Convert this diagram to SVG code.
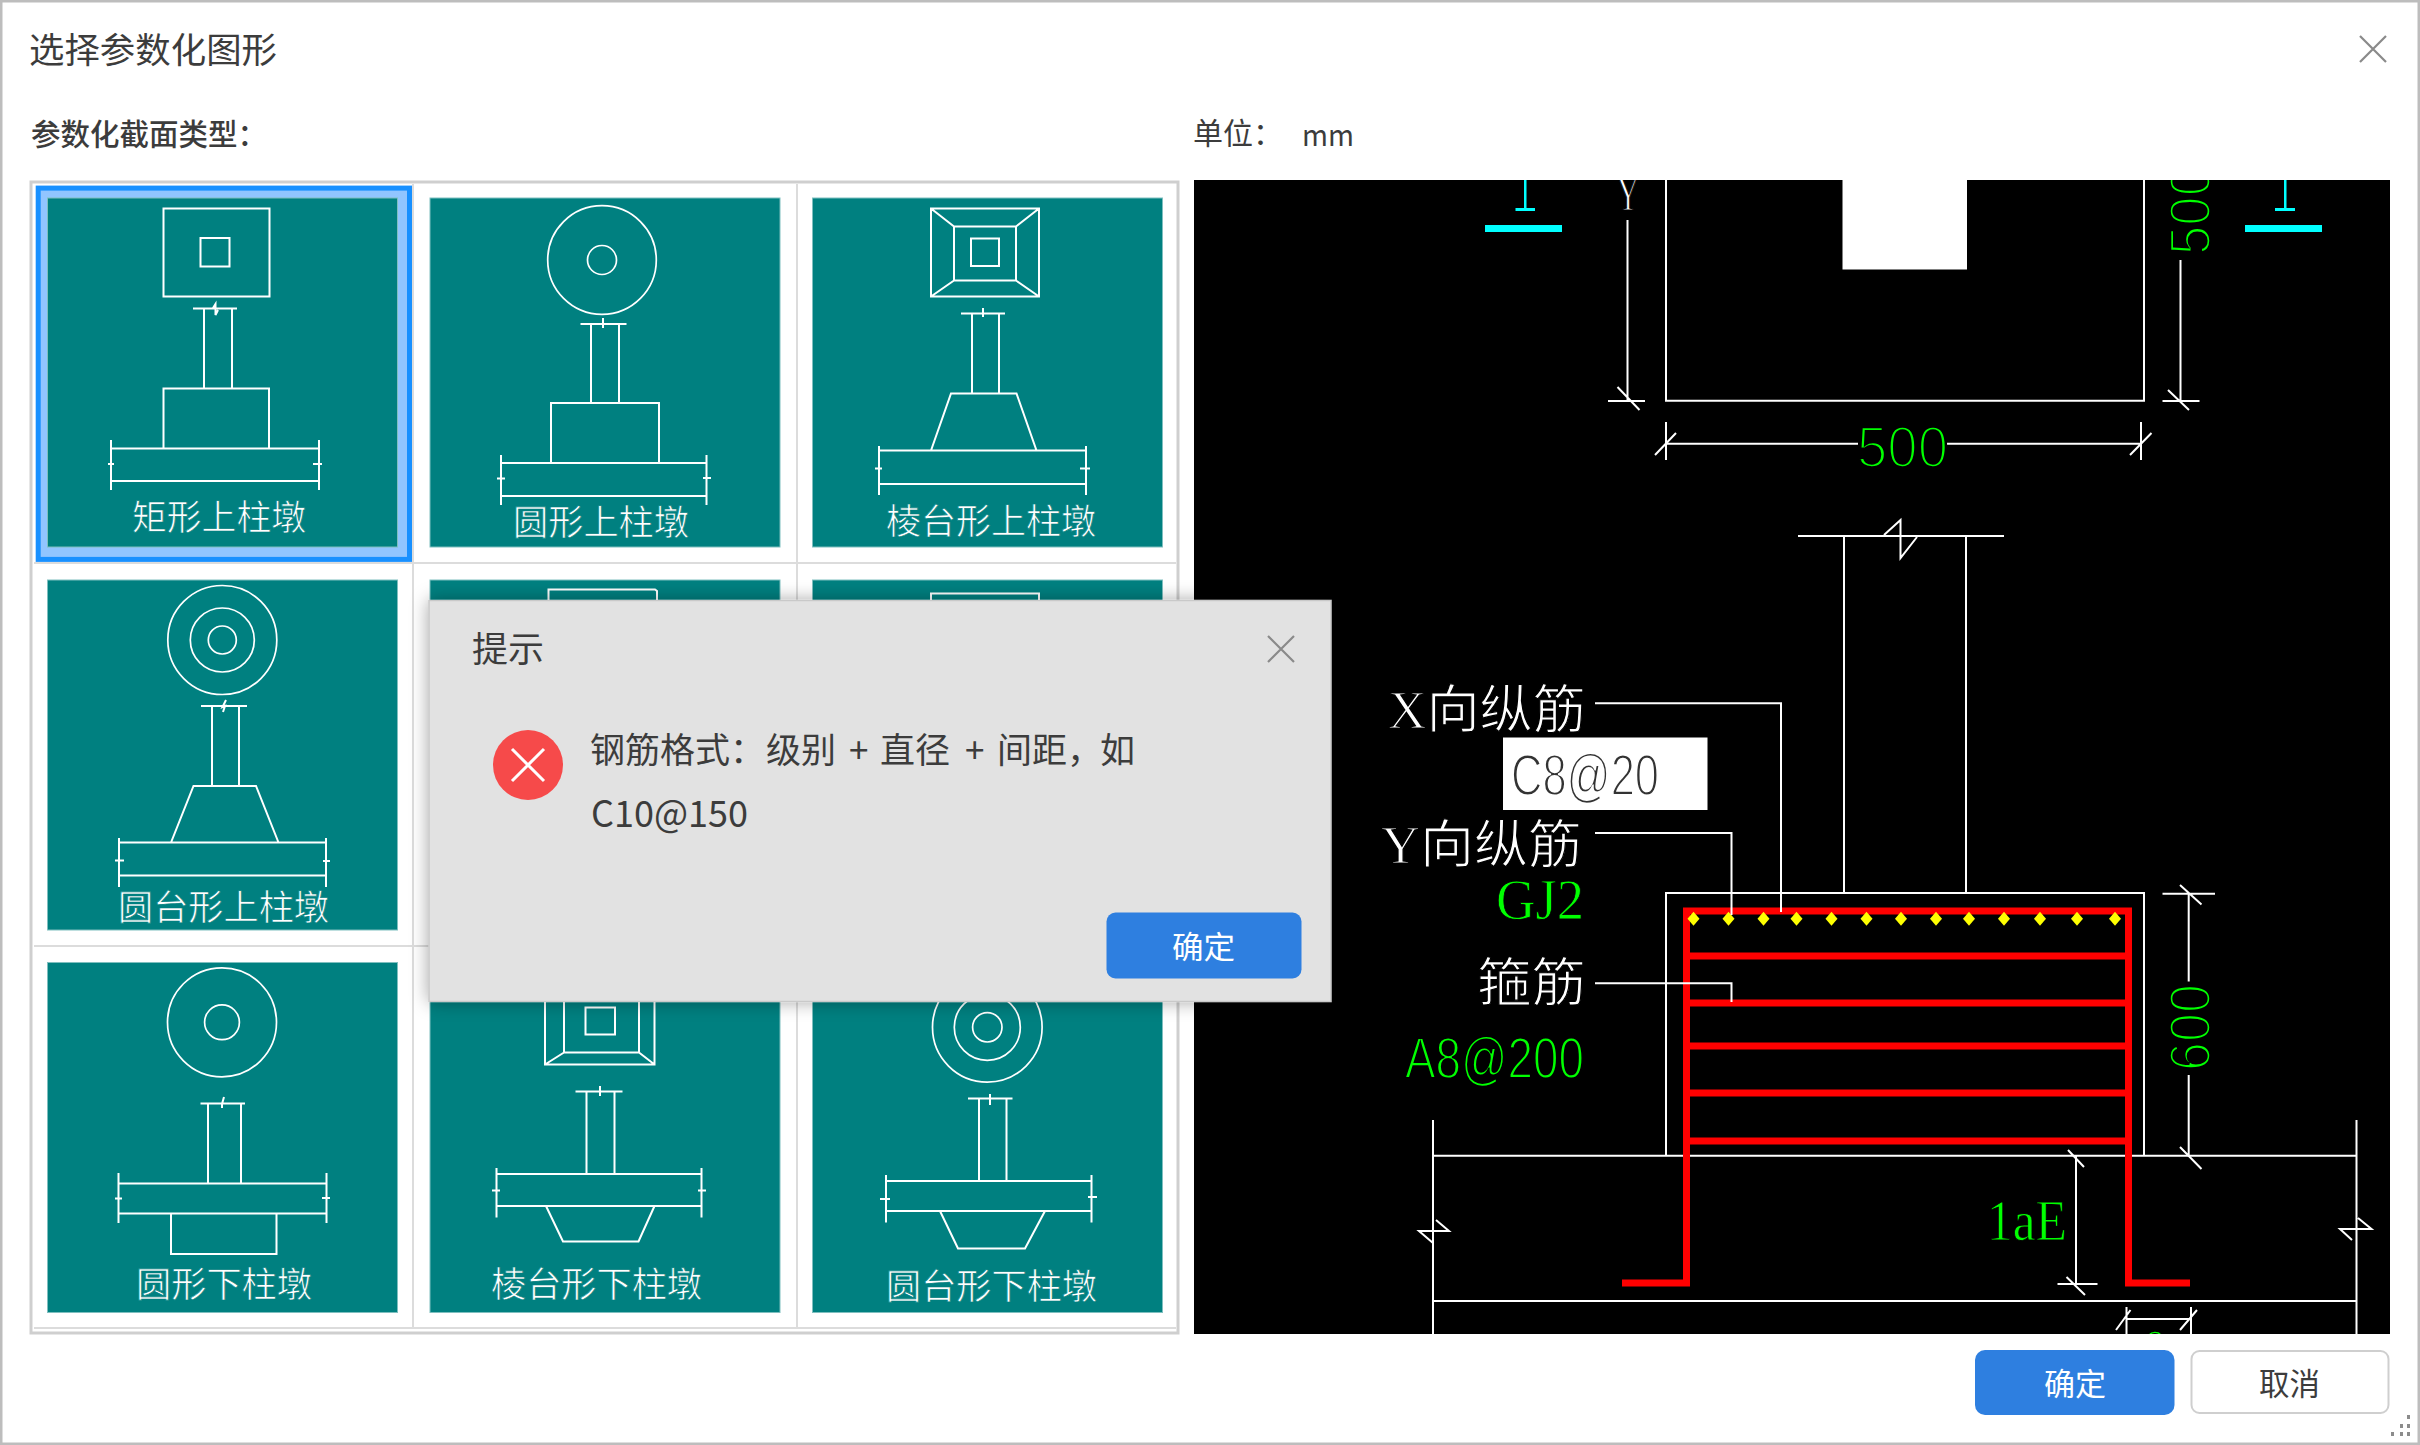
<svg xmlns="http://www.w3.org/2000/svg" width="2420" height="1445" viewBox="0 0 2420 1445">
<style>
.l{fill:none;stroke:#fff;stroke-width:2}
.c{fill:none;stroke:#fff;stroke-width:1.7}
.tile{fill:#008080;stroke:#7fbfbf;stroke-width:1}
.tt{font-family:"Noto Sans CJK SC","Liberation Sans",sans-serif;font-size:35px;fill:#fff;stroke:#008080;stroke-width:.7}
.ui{font-family:"Noto Sans CJK SC","Noto Sans",sans-serif;fill:#3c3c3c;stroke:none}
.wt{font-family:"Noto Sans CJK SC","Noto Sans",sans-serif;font-size:31px;fill:#fff}
.cad{font-family:"Liberation Sans","Noto Sans CJK SC",sans-serif;stroke:#000;stroke-width:2.6;font-size:57px}
.s{font-family:"Liberation Serif","Noto Sans CJK SC",serif;stroke-width:.8}
.at{stroke-width:1.9}
.g{fill:#00ff00}
.w{fill:#fff;stroke-width:1.2;font-size:52px}
.x{fill:none;stroke:#8a8a8a;stroke-width:2.2}
.grid{fill:none;stroke:#dcdcdc;stroke-width:2}
.red{fill:none;stroke:#ff0000;stroke-width:7}
</style>
<defs>
<clipPath id="panelClip"><rect x="1194" y="180" width="1196" height="1154"/></clipPath>
<filter id="sh" x="-5%" y="-10%" width="110%" height="120%"><feDropShadow dx="0" dy="0" stdDeviation="9" flood-color="#000" flood-opacity=".35"/></filter>
<path id="dia" d="M0-7L6 0L0 7L-6 0Z" fill="#ffff00"/>
</defs>
<rect x="1" y="1" width="2418" height="1443" fill="#fff" stroke="#bdbdbd" stroke-width="3"/>
<g id="title">
<text class="ui" x="29" y="63" font-size="35" textLength="248" lengthAdjust="spacingAndGlyphs">选择参数化图形</text>
<path class="x" d="M2360 36L2386 62M2386 36L2360 62"/>
</g>
<text id="subtitle" class="ui" x="31" y="145" font-size="29.5" font-weight="500">参数化截面类型&#xFF1A;</text>
<g id="unit">
<text class="ui" x="1193" y="144" font-size="30">单位&#xFF1A;</text>
<text class="ui" x="1302" y="146" font-size="30" font-family="Noto Sans" textLength="52" lengthAdjust="spacingAndGlyphs">mm</text>
</g>

<g id="grid">
<rect x="31" y="182" width="1147" height="1151" fill="#fff" stroke="#cfcfcf" stroke-width="3"/>
<path class="grid" d="M413 184V1328M797 184V1328M34 563H1176M34 946H1176M34 1328H1176"/>
</g>

<g id="tile-rect-top">
<rect x="38.2" y="188.1" width="371.3" height="371.3" fill="#91c5ff" stroke="#1890ff" stroke-width="5"/>
<rect class="tile" x="47.5" y="198" width="350" height="349"/>
<path class="l" d="M163.5 208.5H269.5V296.5H163.5ZM200.5 238H229.5V266.5H200.5ZM193 308.5H237M204 308.5V388.5M232 308.5V388.5M163.5 448V388.5H269V448M111 448.5H319M111 481H319M111 440V490M319 440V490M108 464H114M313 464H322M213 308L215.5 304V315L218 310"/>
<text class="tt" x="132" y="530" textLength="174" lengthAdjust="spacingAndGlyphs">矩形上柱墩</text>
</g>
<g id="tile-circle-top">
<rect class="tile" x="430" y="198" width="350" height="349"/>
<circle class="c" cx="602" cy="260" r="54.3"/><circle class="c" cx="602" cy="260" r="14.5"/>
<path class="l" d="M580.5 324H626.5M591 324V403M619 324V403M551 463V403H659V463M501 463H706.5M501 496H706.5M501 455V505M706.5 455V505M497 478.5H505M703 478H711M603 318V328"/>
<text class="tt" x="513" y="535" textLength="176" lengthAdjust="spacingAndGlyphs">圆形上柱墩</text>
</g>
<g id="tile-frustum-top">
<rect class="tile" x="812.5" y="198" width="350" height="349"/>
<path class="l" d="M931 208.5H1039V296.5H931ZM954 226.5H1016V280.5H954ZM971 238.5H999V266H971ZM931 208.5L954 226.5M1039 208.5L1016 226.5M931 296.5L954 280.5M1039 296.5L1016 280.5M961 313.5H1005M972 313.5V393.5M999 313.5V393.5M931 450.5L951 393.5H1016.5L1036.5 450.5M879 450.5H1086M879 484H1086M879 446V495M1086 446V495M875 468.5H882M1080 468.5H1090M983 308V317"/>
<text class="tt" x="886" y="534" textLength="210" lengthAdjust="spacingAndGlyphs">棱台形上柱墩</text>
</g>
<g id="tile-cone-top">
<rect class="tile" x="47.5" y="580" width="350" height="350"/>
<circle class="c" cx="222.3" cy="640" r="54.5"/><circle class="c" cx="222.3" cy="640" r="32"/><circle class="c" cx="222.3" cy="640" r="14"/>
<path class="l" d="M201 706H247M212 706V786M239 706V786M171 842.5L193.5 786H256L278.5 842.5M119 842.5H326M119 875.5H326M119 838V887M326 838V887M115 860.5H124M323 861H330M226 700L222.5 707L225 706L223 712"/>
<text class="tt" x="118" y="920" textLength="211" lengthAdjust="spacingAndGlyphs">圆台形上柱墩</text>
</g>
<g id="tile-5">
<rect class="tile" x="430" y="580" width="350" height="350"/>
<path class="l" d="M548.5 610V589.5H655L657 591V610"/>
</g>
<g id="tile-6">
<rect class="tile" x="812.5" y="580" width="350" height="350"/>
<path class="l" d="M931 610V593.5H1039V610"/>
</g>
<g id="tile-circle-bottom">
<rect class="tile" x="47.5" y="962.5" width="350" height="350"/>
<circle class="c" cx="222" cy="1022.3" r="54.5"/><circle class="c" cx="222" cy="1022.3" r="17.4"/>
<path class="l" d="M200.5 1103.5H245M208 1103.5V1183M241 1103.5V1183M118.5 1183.5H326.5M118.5 1213.5H326.5M118.5 1173V1223M326.5 1173V1223M115 1198.5H122M322 1198H330M171 1213.5V1254H276.5V1213.5M224 1097L222 1104V1108"/>
<text class="tt" x="136" y="1297" textLength="176" lengthAdjust="spacingAndGlyphs">圆形下柱墩</text>
</g>
<g id="tile-frustum-bottom">
<rect class="tile" x="430" y="962.5" width="350" height="350"/>
<path class="l" d="M545 990V1064.5H654.5V990M564 990V1052.5H639V990M585.5 1007.5H615V1034.5H585.5ZM545 1064.5L564 1052.5M654.5 1064.5L639 1052.5M575.5 1091.5H622.5M586.5 1091.5V1173M614.5 1091.5V1173M496.5 1174H701.5M496.5 1206H701.5M496.5 1168V1217.5M701.5 1168V1217.5M492 1190.5H500M698 1190.5H706M546 1206L563 1241.5H638.5L654.5 1206M600 1086V1096"/>
<text class="tt" x="491" y="1297" textLength="211" lengthAdjust="spacingAndGlyphs">棱台形下柱墩</text>
</g>
<g id="tile-cone-bottom">
<rect class="tile" x="812.5" y="962.5" width="350" height="350"/>
<circle class="c" cx="987.3" cy="1027.3" r="54.8"/><circle class="c" cx="987.3" cy="1027.3" r="33"/><circle class="c" cx="987.3" cy="1027.3" r="14.7"/>
<path class="l" d="M968 1098.5H1012.5M979 1098.5V1180.5M1006.5 1098.5V1180.5M886 1181H1091.5M886 1211H1091.5M886 1175V1222.5M1091.5 1175V1222.5M880 1199H890M1088 1197H1097M940 1211L958 1248.5H1025L1045 1211M990 1094V1105"/>
<text class="tt" x="886" y="1299" textLength="211" lengthAdjust="spacingAndGlyphs">圆台形下柱墩</text>
</g>

<g id="cad-panel" clip-path="url(#panelClip)">
<rect x="1194" y="180" width="1196" height="1154" fill="#000"/>
<rect x="1842.5" y="180" width="124.5" height="89.5" fill="#fff"/>
<g id="cad-cyan" fill="#00ffff">
<rect x="1524" y="180" width="2.5" height="29"/><rect x="1515.5" y="208" width="19.5" height="3"/><rect x="1485" y="225" width="77" height="7"/>
<rect x="2284" y="180" width="2.5" height="29"/><rect x="2275" y="208" width="20" height="3"/><rect x="2245" y="225" width="77" height="7"/>
</g>
<g id="cad-connectors">
<path class="l" d="M1666 180V400.7H2144V180"/>
<path class="l" d="M1627.5 220V401M1608 401H1645M1617.5 387L1639.5 410M2180.5 260V401M2162.5 401H2199.5M2168 390L2189 410"/>
<path class="l" d="M1666 443.7H1858M1947 443.7H2141M1666 422V460M2141 422V460M1655 455L1676 433M2130 455L2151.5 433"/>
<path class="l" d="M1798 536H2004M1884 535L1900.5 520V558L1917 537M1844 536V893M1966 536V893"/>
<path class="l" d="M1666 1155.7V893H2144V1155.7M1433 1155.7H2356.5M1433 1301H2356.5M1433 1120V1334M2356.5 1120V1334M1436 1220L1449 1231H1419L1433 1243M2358 1218L2371.5 1229H2340L2352 1240"/>
<path class="l" d="M2162.5 893.7H2215M2180 885L2201.5 904.5M2188.7 893.7V981.5M2188.7 1075V1156M2180 1147L2201.5 1169"/>
<path class="l" d="M2076 1155V1284M2057.5 1284H2097.5M2068 1150L2084 1167M2066.5 1277L2085 1295M2126.5 1319H2191M2126.5 1307V1334M2191 1307V1334M2116 1330L2130.5 1310M2180 1330L2197 1310"/>
</g>
<path id="rebar" class="red" d="M1622 1283H1686.5V911H2128.5V1283H2190M1686.5 956H2128.5M1686.5 1003H2128.5M1686.5 1046H2128.5M1686.5 1093H2128.5M1686.5 1141H2128.5"/>
<g id="rebar-dots">
<use href="#dia" x="1693.5" y="918.7"/><use href="#dia" x="1728.5" y="918.7"/><use href="#dia" x="1763.5" y="918.7"/><use href="#dia" x="1796.5" y="918.7"/><use href="#dia" x="1831.5" y="918.7"/><use href="#dia" x="1866.5" y="918.7"/><use href="#dia" x="1901" y="918.7"/><use href="#dia" x="1936" y="918.7"/><use href="#dia" x="1969" y="918.7"/><use href="#dia" x="2004" y="918.7"/><use href="#dia" x="2040" y="918.7"/><use href="#dia" x="2077" y="918.7"/><use href="#dia" x="2115" y="918.7"/>
</g>
<path id="leaders" class="l" d="M1595 703.3H1781V912M1595 833H1731.5V915M1595 983.3H1731.5V1002"/>
<g id="cad-text">
<text class="cad g" x="1857" y="467" textLength="91" lengthAdjust="spacingAndGlyphs">500</text>
<text class="cad g" transform="translate(2209.5 255) rotate(-90)" textLength="88" lengthAdjust="spacingAndGlyphs">500</text>
<text class="cad g" transform="translate(2210 1071) rotate(-90)" textLength="87" lengthAdjust="spacingAndGlyphs">600</text>
<text class="cad w s" x="1617" y="210" style="font-size:48px" textLength="22" lengthAdjust="spacingAndGlyphs">Y</text>
<text class="cad w s" x="1388" y="728" textLength="198" lengthAdjust="spacingAndGlyphs">X向纵筋</text>
<text class="cad w s" x="1381" y="863" textLength="201" lengthAdjust="spacingAndGlyphs">Y向纵筋</text>
<text class="cad w" x="1477" y="1001" textLength="109" lengthAdjust="spacingAndGlyphs">箍筋</text>
<text class="cad g s" x="1496" y="919" textLength="88" lengthAdjust="spacingAndGlyphs">GJ2</text>
<text class="cad g at" x="1405" y="1078" textLength="179" lengthAdjust="spacingAndGlyphs">A8@200</text>
<text class="cad g s" x="1987" y="1240" style="font-size:58px" textLength="80" lengthAdjust="spacingAndGlyphs">1aE</text>
<text class="cad g" x="2143" y="1371" textLength="24" lengthAdjust="spacingAndGlyphs">8</text>
</g>
<g id="rebar-input">
<rect x="1503" y="737.5" width="204.5" height="72.5" fill="#fff"/>
<text class="cad at" x="1511" y="795" style="fill:#333;stroke:#fff" textLength="148" lengthAdjust="spacingAndGlyphs">C8@20</text>
</g>
</g>

<g id="footer-buttons">
<rect x="1975" y="1350" width="199.5" height="65" rx="10" fill="#2e7fe0"/>
<text class="wt" x="2044" y="1395" textLength="62" lengthAdjust="spacingAndGlyphs">确定</text>
<rect x="2191.5" y="1351" width="197" height="62" rx="8" fill="#fff" stroke="#cfcfcf" stroke-width="2"/>
<text class="ui" x="2259" y="1395" font-size="31" textLength="61" lengthAdjust="spacingAndGlyphs">取消</text>
</g>
<path id="resize-grip" fill="#8c8c8c" d="M2407 1415h3v4h-3zM2400 1424h3v4h-3zM2407 1424h3v4h-3zM2391 1432h3v4h-3zM2400 1432h3v4h-3zM2407 1432h3v4h-3z"/>

<g id="alert-dialog">
<rect x="429" y="600.5" width="902" height="401" fill="#e2e2e2" stroke="#c9c9c9" stroke-width="1.5" filter="url(#sh)"/>
<text class="ui" x="472" y="662" font-size="35" textLength="72" lengthAdjust="spacingAndGlyphs">提示</text>
<path class="x" d="M1268 636L1294 662M1294 636L1268 662"/>
<circle cx="528" cy="765" r="35" fill="#f64a4a"/>
<path d="M512 749L544 781M544 749L512 781" fill="none" stroke="#fff" stroke-width="3"/>
<text class="ui" y="763" font-size="35"><tspan x="590">钢筋格式&#xFF1A;</tspan><tspan x="766">级别</tspan><tspan x="849">+</tspan><tspan x="880">直径</tspan><tspan x="965">+</tspan><tspan x="997">间距&#xFF0C;</tspan><tspan x="1100">如</tspan></text>
<text class="ui" x="591" y="827" font-size="37" font-family="Noto Sans" textLength="157" lengthAdjust="spacingAndGlyphs">C10@150</text>
<rect x="1106.5" y="912.5" width="195" height="66" rx="9" fill="#2e7fe0"/>
<text class="wt" x="1172" y="958" textLength="63" lengthAdjust="spacingAndGlyphs">确定</text>
</g>
</svg>
